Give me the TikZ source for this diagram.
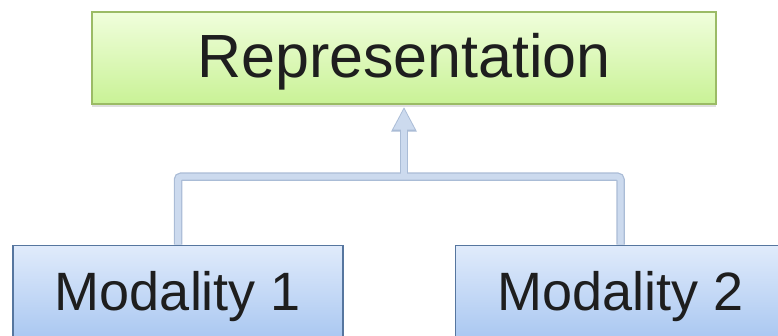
\documentclass[tikz,border=0pt]{standalone}
\usepackage{xcolor}
\usepackage{fontspec}
\setmainfont{Liberation Sans}
\usepackage{tikz}
\usetikzlibrary{arrows.meta,positioning,shadows}

\definecolor{repfilltop}{HTML}{F0FEDC}
\definecolor{repfillbot}{HTML}{C9F296}
\definecolor{repline}{HTML}{9BBB66}
\definecolor{modfilltop}{HTML}{E0EBFB}
\definecolor{modfillbot}{HTML}{A9C7F1}
\definecolor{modline}{HTML}{56769F}
\definecolor{linkfill}{HTML}{CCDAEE}
\definecolor{linkline}{HTML}{AABCD6}
\definecolor{textcol}{HTML}{1E1E1E}

\begin{document}
\begin{tikzpicture}[x=1pt,y=1pt]
	  \tikzset{repbox/.style={draw=repline, line width=1.5pt, rectangle, top color=repfilltop, bottom color=repfillbot,
	  		minimum width=624pt, minimum height=92pt, inner sep=0pt, align=center, text=textcol,
	  		font=\fontsize{61}{70}\selectfont, text height=40pt, text depth=0pt,
	  		drop shadow={opacity=0.25, shadow xshift=0pt, shadow yshift=-3pt}},
	  	modbox/.style={draw=modline, line width=1.5pt, rectangle, top color=modfilltop, bottom color=modfillbot,
	  		minimum width=330pt, minimum height=94pt, inner sep=0pt, align=center, text=textcol,
	  		font=\fontsize{54}{62}\selectfont, text height=36pt, text depth=0pt,
	  		drop shadow={opacity=0.2, shadow xshift=0pt, shadow yshift=-3pt}},
	  	linkedge/.style={draw=linkline, line width=8.5pt, rounded corners=3pt},
	  	linkinner/.style={draw=linkfill, line width=6pt, rounded corners=3pt},
	  }
	  \useasboundingbox (0,0) rectangle (778,336);
	  \node [repbox] (rep) at (404,278) {Representation};
	  \node [modbox, below=140pt of rep, xshift=-226pt] (mod1) {Modality 1};
	  \node [modbox, right=111pt of mod1] (mod2) {Modality 2};
	  \coordinate [below=72pt of rep.south] (join);

	  %% paths
	  \path[linkedge] (mod1.north) |- (join) -| (mod2.north);
	  \path[linkedge, shorten >=2pt, -{Triangle[width=24pt,length=25pt]}] (join) -- (rep.south);
	  \path[linkinner] (mod1.north) |- (join) -| (mod2.north);
	  \path[linkinner, shorten >=4pt, -{Triangle[width=20pt,length=21pt]}] (join) -- (rep.south);
	  \end{tikzpicture}
\end{document}
